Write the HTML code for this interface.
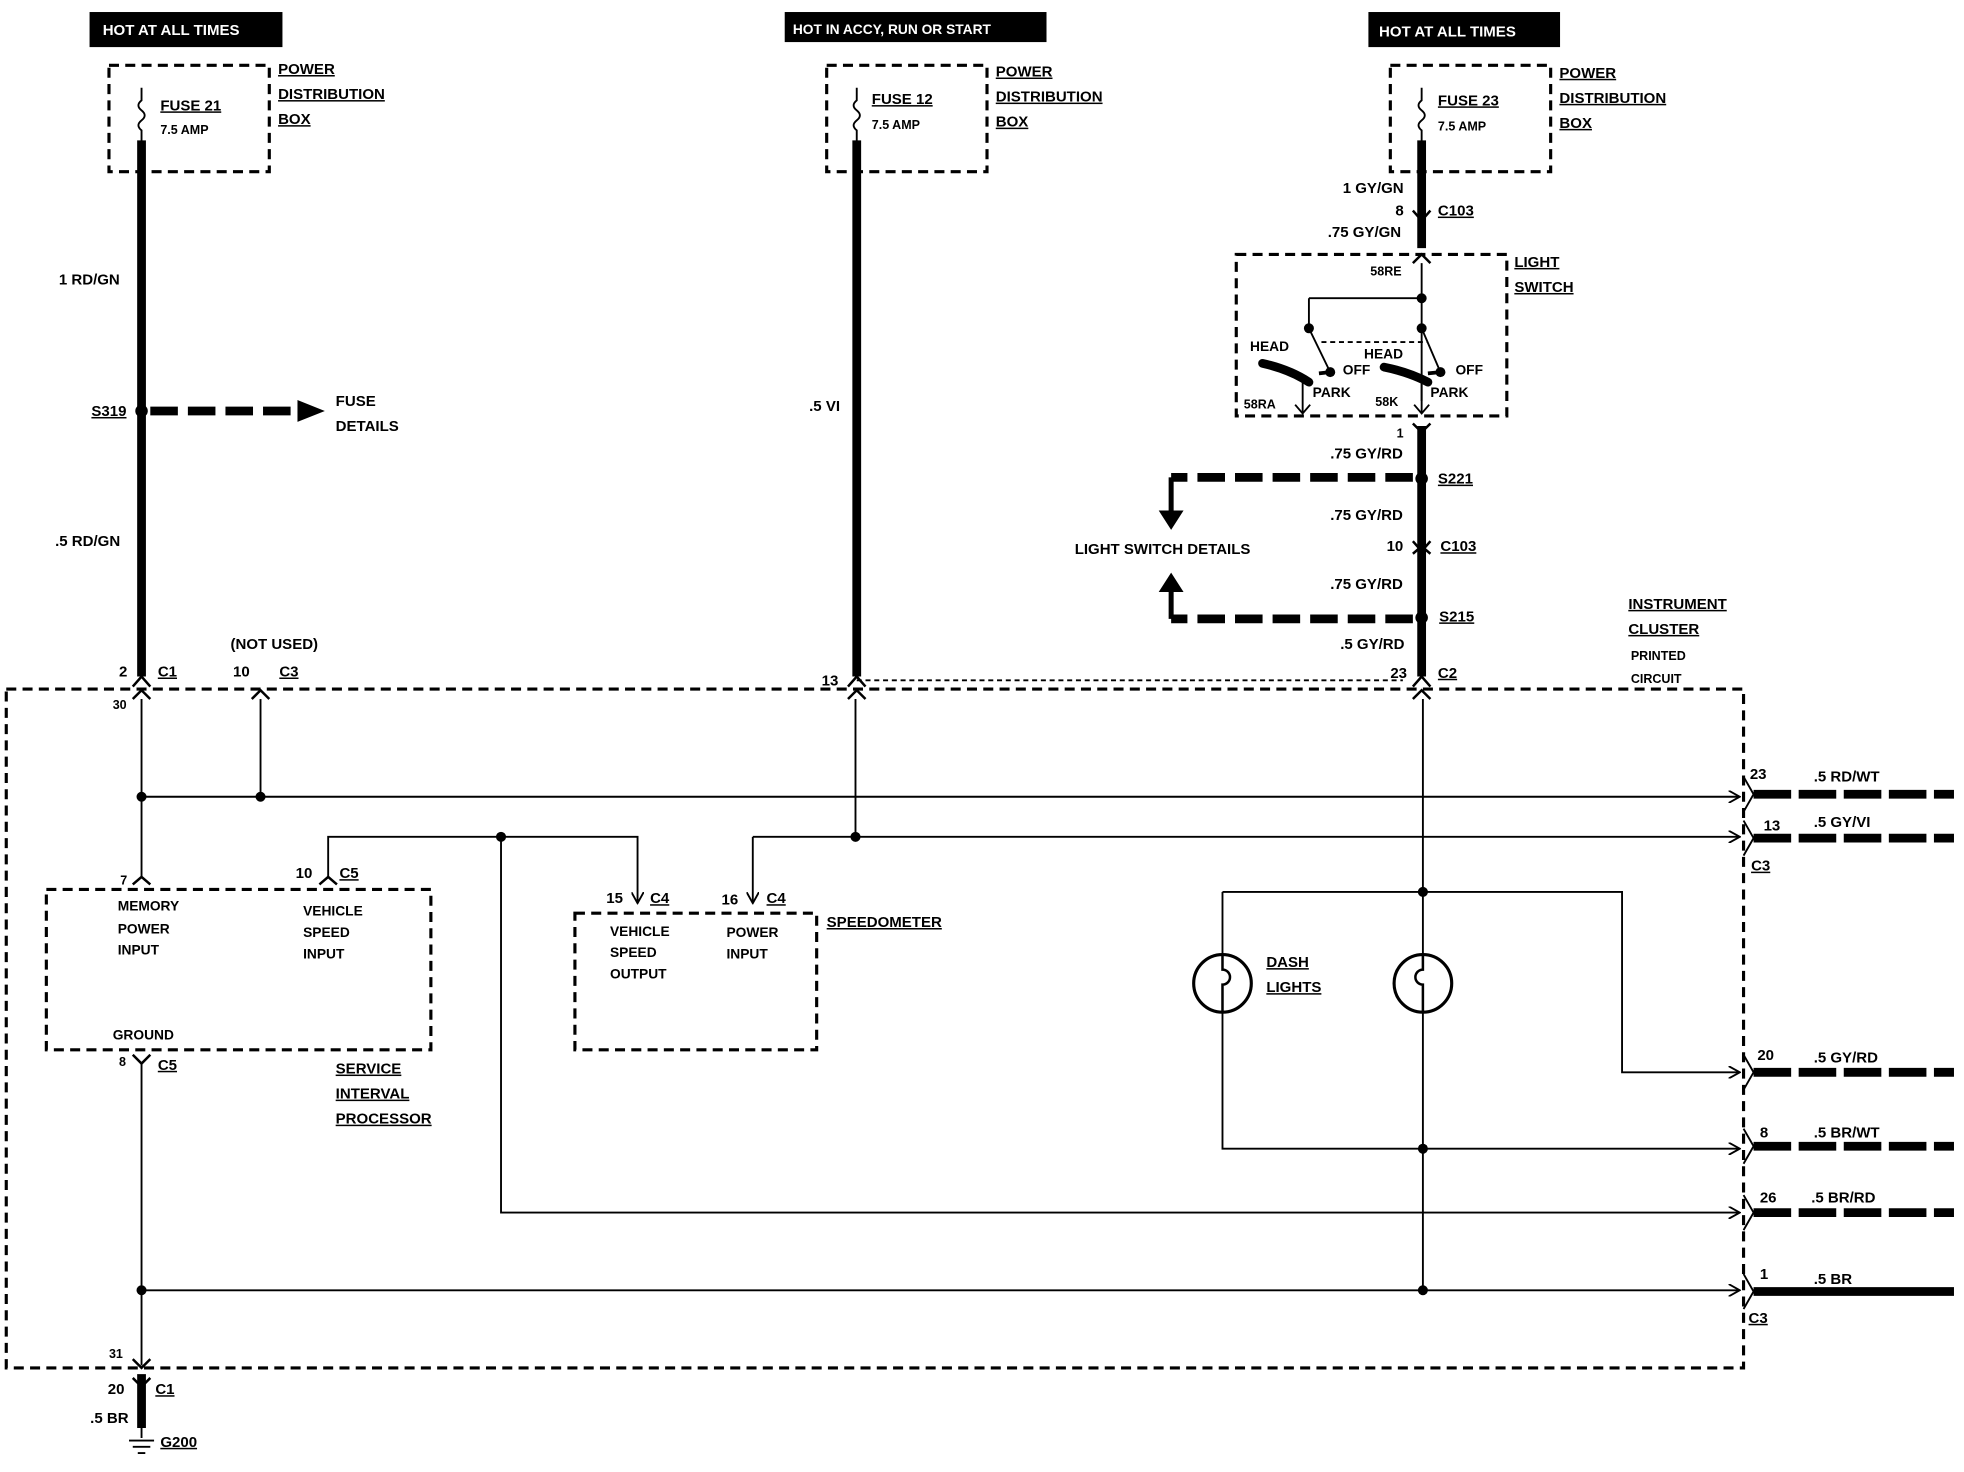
<!DOCTYPE html>
<html><head><meta charset="utf-8"><style>
html,body{margin:0;padding:0;background:#fff;}
svg{display:block}
text{font-family:"Liberation Sans",sans-serif;font-weight:bold;font-size:12px;fill:#000}
.u{text-decoration:underline}
</style></head><body>
<svg width="1964" height="1472" viewBox="0 0 1568 1175" xmlns="http://www.w3.org/2000/svg">
<defs>
<marker id="ar" markerWidth="10" markerHeight="10" refX="8" refY="5" orient="auto" markerUnits="userSpaceOnUse"><path d="M0,0 L9,5 L0,10" fill="none" stroke="#000" stroke-width="1.5"/></marker>
</defs>
<g fill="none" stroke="#000">
<rect x="72" y="10" width="153" height="27" fill="#000"/>
<rect x="627" y="10" width="208" height="23" fill="#000"/>
<rect x="1093" y="10" width="152" height="27" fill="#000"/>
<g stroke-width="2.5" stroke-dasharray="8,5">
<rect x="87" y="52" width="128" height="85"/>
<rect x="660" y="52" width="128" height="85"/>
<rect x="1110" y="52" width="128" height="85"/>
<rect x="987" y="203" width="216" height="129"/>
<rect x="5" y="550" width="1387" height="542"/>
<rect x="37" y="710" width="307" height="128"/>
<rect x="459" y="729" width="193" height="109"/>
</g>
<g stroke-width="1.5">
<path d="M113,70 v10 q-5,4 0,8 q5,4 0,8 q-5,4 0,8 v10"/>
<path d="M684,70 v10 q-5,4 0,8 q5,4 0,8 q-5,4 0,8 v10"/>
<path d="M1135,70 v10 q-5,4 0,8 q5,4 0,8 q-5,4 0,8 v10"/>
</g>
<g stroke-width="7">
<path d="M113,112 V540"/>
<path d="M684,112 V540"/>
<path d="M1135,112 V198"/>
<path d="M1135,340 V540"/>
<path d="M113,1097 V1140"/>
<path d="M1400,1031 H1560"/>
</g>
<g stroke-width="7" stroke-dasharray="30,6">
<path d="M1400,634 H1560"/><path d="M1400,669 H1560"/><path d="M1400,856 H1560"/>
<path d="M1400,915 H1560"/><path d="M1400,968 H1560"/>
</g>
<g stroke-width="7" stroke-dasharray="22,8">
<path d="M120,328 H238"/>
<path d="M1128,381 H935"/>
<path d="M1128,494 H935"/>
</g>
<path d="M238,320 L258,328 L238,336 Z" fill="#000"/>
<path d="M935,381 V412" stroke-width="4"/><path d="M926,408 L935,422 L944,408 Z" fill="#000"/>
<path d="M935,494 V468" stroke-width="4"/><path d="M926,472 L935,458 L944,472 Z" fill="#000"/>
<g fill="#000" stroke="none">
<circle cx="113" cy="328" r="5"/><circle cx="1135" cy="382" r="5"/><circle cx="1135" cy="493" r="5"/>
<circle cx="113" cy="636" r="4"/><circle cx="208" cy="636" r="4"/><circle cx="400" cy="668" r="4"/>
<circle cx="683" cy="668" r="4"/><circle cx="1136" cy="712" r="4"/><circle cx="1136" cy="917" r="4"/>
<circle cx="113" cy="1030" r="4"/><circle cx="1136" cy="1030" r="4"/>
<circle cx="1135" cy="238" r="4"/><circle cx="1045" cy="262" r="4"/><circle cx="1135" cy="262" r="4"/>
<circle cx="1062" cy="297" r="4"/><circle cx="1150" cy="297" r="4"/>
</g>
<g stroke-width="2">
<path d="M106,548 L113,540 L120,548"/><path d="M106,558 L113,551 L120,558"/>
<path d="M677,548 L684,540 L691,548"/><path d="M677,558 L684,551 L691,558"/>
<path d="M1128,548 L1135,540 L1142,548"/><path d="M1128,558 L1135,551 L1142,558"/>
<path d="M201,558 L208,551 L215,558"/>
<path d="M1128,168 L1135,176 L1142,168"/><path d="M1128,210 L1135,203 L1142,210"/>
<path d="M1128,432 L1135,440 L1142,432"/><path d="M1128,442 L1135,436 L1142,442"/>
<path d="M1128,338 L1135,345 L1142,338"/>
<path d="M106,706 L113,700 L120,706"/><path d="M255,706 L262,700 L269,706"/>
<path d="M106,842 L113,849 L120,842"/>
<path d="M106,1085 L113,1092 L120,1085"/><path d="M106,1100 L113,1107 L120,1100"/>
</g>
<g stroke-width="1.5">
<path d="M684,543 H1120" stroke-dasharray="4,3"/>
<path d="M113,558 V700"/><path d="M208,558 V636"/>
<path d="M113,636 H1388" marker-end="url(#ar)"/>
<path d="M683,558 V668 H1388" marker-end="url(#ar)"/>
<path d="M601,668 V720" marker-end="url(#ar)"/><path d="M601,668 H683"/>
<path d="M262,700 V668 H509 V720" marker-end="url(#ar)"/>
<path d="M400,668 V968 H1388" marker-end="url(#ar)"/>
<path d="M1136,558 V762"/><path d="M1136,808 V1030"/>
<path d="M976,712 H1295 V856 H1388" marker-end="url(#ar)"/>
<path d="M976,712 V762"/><path d="M976,808 V917 H1388" marker-end="url(#ar)"/>
<path d="M113,849 V1090"/>
<path d="M113,1030 H1388" marker-end="url(#ar)"/>
<path d="M1392,620 L1400,634 L1392,648" /><path d="M1392,655 L1400,669 L1392,683"/>
<path d="M1392,842 L1400,856 L1392,870"/><path d="M1392,901 L1400,915 L1392,929"/>
<path d="M1392,954 L1400,968 L1392,982"/><path d="M1392,1017 L1400,1031 L1392,1045"/>
<path d="M1135,210 V320"/><path d="M1045,238 H1135"/><path d="M1045,238 V262 L1062,297"/>
<path d="M1135,262 L1150,297"/>
<path d="M1055,273 H1140" stroke-dasharray="4,3"/>
<path d="M1040,305 V330"/><path d="M1034,323 L1040,330 L1046,323"/>
<path d="M1135,305 V330"/><path d="M1129,323 L1135,330 L1141,323"/>
<circle cx="976" cy="785" r="23" stroke-width="2.5"/><circle cx="1136" cy="785" r="23" stroke-width="2.5"/>
<path d="M976,762 V774 a6,6 0 1 1 0,12 V808" stroke-width="2"/>
<path d="M1136,762 V774 a6,6 0 1 0 0,12 V808" stroke-width="2"/>
<path d="M113,1140 V1148 M103,1150 H123 M106,1155 H120 M110,1160 H116"/>
</g>
<path d="M1008,290 Q1030,295 1045,305" stroke-width="7" stroke-linecap="round"/>
<path d="M1105,293 Q1125,297 1140,305" stroke-width="7" stroke-linecap="round"/>
<path d="M1053,298 L1062,297" stroke-width="3"/><path d="M1140,298 L1150,297" stroke-width="3"/>
</g>
<text x="82" y="28" style="fill:#fff">HOT AT ALL TIMES</text>
<text x="633" y="27" style="fill:#fff;font-size:11px">HOT IN ACCY, RUN OR START</text>
<text x="1101" y="29" style="fill:#fff">HOT AT ALL TIMES</text>
<text x="128" y="88" class="u">FUSE 21</text><text x="128" y="107" style="font-size:10px">7.5 AMP</text>
<text x="696" y="83" class="u">FUSE 12</text><text x="696" y="103" style="font-size:10px">7.5 AMP</text>
<text x="1148" y="84" class="u">FUSE 23</text><text x="1148" y="104" style="font-size:10px">7.5 AMP</text>
<text x="222" y="59" class="u">POWER</text><text x="222" y="79" class="u">DISTRIBUTION</text><text x="222" y="99" class="u">BOX</text>
<text x="795" y="61" class="u">POWER</text><text x="795" y="81" class="u">DISTRIBUTION</text><text x="795" y="101" class="u">BOX</text>
<text x="1245" y="62" class="u">POWER</text><text x="1245" y="82" class="u">DISTRIBUTION</text><text x="1245" y="102" class="u">BOX</text>
<text x="47" y="227">1 RD/GN</text>
<text x="73" y="332" class="u">S319</text>
<text x="268" y="324">FUSE</text><text x="268" y="344">DETAILS</text>
<text x="44" y="436">.5 RD/GN</text>
<text x="646" y="328">.5 VI</text>
<text x="1072" y="154">1 GY/GN</text>
<text x="1114" y="172">8</text><text x="1148" y="172" class="u">C103</text>
<text x="1060" y="189">.75 GY/GN</text>
<text x="1094" y="220" style="font-size:10px">58RE</text>
<text x="1209" y="213" class="u">LIGHT</text><text x="1209" y="233" class="u">SWITCH</text>
<text x="998" y="280" style="font-size:11px">HEAD</text><text x="1089" y="286" style="font-size:11px">HEAD</text>
<text x="1072" y="299" style="font-size:11px">OFF</text><text x="1162" y="299" style="font-size:11px">OFF</text>
<text x="1048" y="317" style="font-size:11px">PARK</text><text x="1142" y="317" style="font-size:11px">PARK</text>
<text x="993" y="326" style="font-size:10px">58RA</text><text x="1098" y="324" style="font-size:10px">58K</text>
<text x="1115" y="349" style="font-size:10px">1</text>
<text x="1062" y="366">.75 GY/RD</text>
<text x="1148" y="386" class="u">S221</text>
<text x="1062" y="415">.75 GY/RD</text>
<text x="1107" y="440">10</text><text x="1150" y="440" class="u">C103</text>
<text x="858" y="442">LIGHT SWITCH DETAILS</text>
<text x="1062" y="470">.75 GY/RD</text>
<text x="1149" y="496" class="u">S215</text>
<text x="1070" y="518">.5 GY/RD</text>
<text x="1300" y="486" class="u">INSTRUMENT</text><text x="1300" y="506" class="u">CLUSTER</text>
<text x="1302" y="527" style="font-size:10px">PRINTED</text><text x="1302" y="545" style="font-size:10px">CIRCUIT</text>
<text x="184" y="518">(NOT USED)</text>
<text x="95" y="540">2</text><text x="126" y="540" class="u">C1</text>
<text x="186" y="540">10</text><text x="223" y="540" class="u">C3</text>
<text x="656" y="547">13</text>
<text x="1110" y="541">23</text><text x="1148" y="541" class="u">C2</text>
<text x="90" y="566" style="font-size:10px">30</text>
<text x="96" y="706" style="font-size:10px">7</text>
<text x="94" y="727" style="font-size:11px">MEMORY</text><text x="94" y="745" style="font-size:11px">POWER</text><text x="94" y="762" style="font-size:11px">INPUT</text>
<text x="236" y="701">10</text><text x="271" y="701" class="u">C5</text>
<text x="242" y="731" style="font-size:11px">VEHICLE</text><text x="242" y="748" style="font-size:11px">SPEED</text><text x="242" y="765" style="font-size:11px">INPUT</text>
<text x="90" y="830" style="font-size:11px">GROUND</text>
<text x="95" y="851" style="font-size:10px">8</text><text x="126" y="854" class="u">C5</text>
<text x="268" y="857" class="u">SERVICE</text><text x="268" y="877" class="u">INTERVAL</text><text x="268" y="897" class="u">PROCESSOR</text>
<text x="484" y="721">15</text><text x="519" y="721" class="u">C4</text>
<text x="576" y="722">16</text><text x="612" y="721" class="u">C4</text>
<text x="487" y="747" style="font-size:11px">VEHICLE</text><text x="487" y="764" style="font-size:11px">SPEED</text><text x="487" y="781" style="font-size:11px">OUTPUT</text>
<text x="580" y="748" style="font-size:11px">POWER</text><text x="580" y="765" style="font-size:11px">INPUT</text>
<text x="660" y="740" class="u">SPEEDOMETER</text>
<text x="1011" y="772" class="u">DASH</text><text x="1011" y="792" class="u">LIGHTS</text>
<text x="1397" y="622">23</text><text x="1448" y="624">.5 RD/WT</text>
<text x="1408" y="663">13</text><text x="1448" y="660">.5 GY/VI</text>
<text x="1398" y="695" class="u">C3</text>
<text x="1403" y="846">20</text><text x="1448" y="848">.5 GY/RD</text>
<text x="1405" y="908">8</text><text x="1448" y="908">.5 BR/WT</text>
<text x="1405" y="960">26</text><text x="1446" y="960">.5 BR/RD</text>
<text x="1405" y="1021">1</text><text x="1448" y="1025">.5 BR</text>
<text x="1396" y="1056" class="u">C3</text>
<text x="87" y="1084" style="font-size:10px">31</text>
<text x="86" y="1113">20</text><text x="124" y="1113" class="u">C1</text>
<text x="72" y="1136">.5 BR</text>
<text x="128" y="1155" class="u">G200</text>
</svg>
</body></html>
